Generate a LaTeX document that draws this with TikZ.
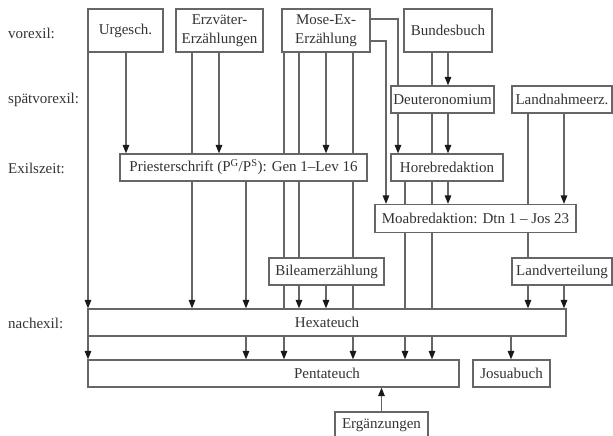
\documentclass[tikz,border=0pt]{standalone}
\usepackage{fontspec}
\setmainfont{Liberation Serif}
\usetikzlibrary{arrows.meta,backgrounds}
\def\link(#1)(#2)(#3){\draw[arr] (#1.south -| #3,0) -- (#2.north -| #3,0);}

\tikzset{
	box/.style={draw=black!60, fill=white, line width=1.2pt, inner sep=0pt, align=center,
		text=black!80, font=\fontsize{15}{19}\selectfont},
	boxtext/.style={inner sep=0pt, text=black!80, font=\fontsize{15}{19}\selectfont},
	era/.style={anchor=west, inner sep=0pt, text=black!80, font=\fontsize{15}{19}\selectfont},
	arr/.style={draw=black!60, line width=1.2pt, -{Triangle[width=6.5pt,length=8.5pt,color=black!90]}}
}

\begin{document}
\begin{tikzpicture}[x=1pt, y=-1pt]
			%%%%% START %%%%%
			\useasboundingbox (0, 0) rectangle (613, 436);
			
			\node[era] (vor) at (8, 33) {vorexil:};
			\node[era] (spaet) at (8, 100) {spätvorexil:};
			\node[era] (exil) at (8, 168) {Exilszeit:};
			\node[era] (nach) at (8, 323) {nachexil:};
			
			\node[box, minimum width=75pt, minimum height=43pt] (urg) at (125.5, 30.5) {Urgesch.};
			\node[box, minimum width=87pt, minimum height=43pt] (erz) at (219.5, 30.5) {Erzväter-\\Erzählungen};
			\node[box, minimum width=88pt, minimum height=43pt] (mose) at (326, 30.5) {Mose-Ex-\\Erzählung};
			\node[box, minimum width=88pt, minimum height=43pt] (bund) at (448, 30.5) {Bundesbuch};
			
			\node[box, minimum width=103pt, minimum height=27pt] (deut) at (442.5, 99.5) {Deuteronomium};
			\node[box, minimum width=100pt, minimum height=27pt] (landn) at (562, 99.5) {Landnahmeerz.};
			
			\node[box, minimum width=247pt, minimum height=27pt] (priester) at (243.5, 167.5) {Priesterschrift (P\textsuperscript{G}/P\textsuperscript{S}): Gen 1--Lev 16};
			\node[box, minimum width=112pt, minimum height=27pt] (horeb) at (447, 167.5) {Horebredaktion};
			\node[box, minimum width=201pt, minimum height=28pt] (moab) at (475.5, 218.5) {Moabredaktion: Dtn 1 -- Jos 23};
			
			\node[box, minimum width=115pt, minimum height=27pt] (bileam) at (326.5, 271.5) {Bileamerzählung};
			\node[box, minimum width=100pt, minimum height=27pt] (landv) at (562, 271.5) {Landverteilung};
			
			\node[box, minimum width=478pt, minimum height=27pt] (hexa) at (327, 322.5) {Hexateuch};
			\node[box, minimum width=371pt, minimum height=27pt] (penta) at (273.5, 373.5) {};
			\node[boxtext] (pentatext) at (penta.center -| hexa.center) {Pentateuch};
			\node[box, minimum width=77pt, minimum height=27pt] (josua) at (511.5, 373.5) {Josuabuch};
			\node[box, minimum width=93pt, minimum height=27pt] (erg) at (381.5, 425.5) {Ergänzungen};
			
			\begin{scope}[on background layer]
			\link(urg)(hexa)(88)
			\link(hexa)(penta)(88)
			\link(urg)(priester)(126)
			\link(erz)(hexa)(192)
			\link(erz)(priester)(219)
			\link(priester)(hexa)(246)
			\link(hexa)(penta)(246)
			\link(mose)(penta)(284)
			\link(mose)(hexa)(299)
			\link(mose)(priester)(326)
			\link(bileam)(hexa)(326)
			\link(mose)(penta)(353)
			\draw[arr] (mose.east |- 0, 19) -| (horeb.north -| 398, 0);
			\draw[arr] (mose.east |- 0, 41) -| (moab.north -| 386, 0);
			
			\link(bund)(penta)(432)
			\link(bund)(deut)(448)
			\link(deut)(horeb)(448)
			\link(horeb)(penta)(405)
			\link(horeb)(moab)(448)
			\link(landn)(hexa)(528)
			\link(landn)(moab)(564)
			\link(landv)(hexa)(564)
			\link(hexa)(josua)(511)
			\draw[arr] (erg.north) -- (penta.south -| erg.north);
			\end{scope}
			
			%%%%% END %%%%%
\end{tikzpicture}
\end{document}
